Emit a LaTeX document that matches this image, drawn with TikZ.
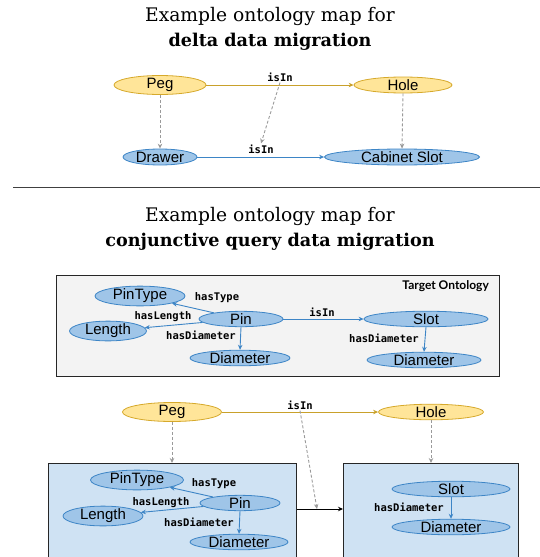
\documentclass[tikz,border=0pt]{standalone}
\usepackage{fontspec}
\setmainfont{DejaVu Serif}
\newfontfamily\nodefont{Liberation Sans}
\newfontfamily\labfont{DejaVu Sans Mono}
\newfontfamily\tgtfont{Lato}
\usetikzlibrary{shapes.geometric,arrows.meta,calc}
\definecolor{yfill}{HTML}{FFE599}
\definecolor{yborder}{HTML}{D6A92B}
\definecolor{yarrow}{HTML}{C9A12B}
\definecolor{bfill}{HTML}{9FC5E8}
\definecolor{bborder}{HTML}{3D85C6}
\definecolor{dgray}{HTML}{9A9A9A}
\definecolor{lgray}{HTML}{F3F3F3}
\definecolor{lblue}{HTML}{CFE2F3}
\tikzset{
  ell/.style={ellipse, draw, inner sep=0pt, minimum height=16pt, line width=0.8pt,
    font=\nodefont\fontsize{15}{15}\selectfont},
  yel/.style={ell, fill=yfill, draw=yborder},
  blu/.style={ell, fill=bfill, draw=bborder},
  lab/.style={font=\labfont\bfseries\fontsize{10.5}{10.5}\selectfont, inner sep=1pt},
  arr/.style={-{Stealth[length=5pt,width=4.5pt]}, line width=0.9pt},
  yarr/.style={arr, draw=yarrow},
  barr/.style={arr, draw=bborder},
  dsh/.style={arr, draw=dgray, dash pattern=on 3pt off 2pt},
  ttl/.style={font=\fontsize{18.7}{20}\selectfont, inner sep=0pt},
  ttlb/.style={font=\fontsize{17.6}{20}\selectfont\bfseries, inner sep=0pt},
  frame/.style={draw=black!85, line width=1.3pt, anchor=north west, inner sep=0pt}
}
\begin{document}
\begin{tikzpicture}[x=1pt,y=-1pt]
\useasboundingbox (0,0) rectangle (540,557);
\clip (0,0) rectangle (540,557);

% ---------- top section ----------
\node[ttl] (t1a) at (270,16) {Example ontology map for};
\node[ttlb] (t1b) at (270,42) {delta data migration};

\node[yel, minimum width=92pt] (peg) at (160,85) {Peg};
\node[yel, minimum width=98pt] (hole) at (403,85) {Hole};
\node[blu, minimum width=74pt] (drawer) at (160,157) {Drawer};
\node[blu, minimum width=155pt] (cab) at (402,157) {Cabinet Slot};

\node[lab] (l1) at (280,77) {isIn};
\node[lab] (l2) at (261,149) {isIn};

\draw[yarr] (peg.east) -- (hole.west);
\draw[barr] (drawer.east) -- (cab.west);
\draw[dsh] (peg.south) -- (drawer.north);
\draw[dsh] (hole.south) -- (cab.north);
\draw[dsh] (l1.south) -- (l2.north);

% separator
\coordinate (sepL) at (13,187);
\coordinate (sepR) at (540,187);
\draw[line width=1pt, black!75] (sepL) -- (sepR);

% ---------- bottom section ----------
\node[ttl] (t2a) at (270,216) {Example ontology map for};
\node[ttlb] (t2b) at (270,242) {conjunctive query data migration};

% target ontology box
\node[frame, fill=lgray, minimum width=443pt, minimum height=101pt] (tbox) at (56,275) {};
\node[font=\tgtfont\bfseries\fontsize{12}{12}\selectfont, anchor=north east, inner sep=0pt] (tlab) at (489,280) {Target Ontology};

\node[blu, minimum width=90pt, minimum height=15pt] (pintype) at (140,296) {PinType};
\node[blu, minimum width=84pt, minimum height=15pt] (pin) at (241,319) {Pin};
\node[blu, minimum width=77pt, minimum height=15pt] (length) at (108,331) {Length};
\node[blu, minimum width=100pt, minimum height=15pt] (diam1) at (240,358) {Diameter};
\node[blu, minimum width=124pt, minimum height=15pt] (slot) at (426,319) {Slot};
\node[blu, minimum width=114pt, minimum height=15pt] (diam2) at (424,360) {Diameter};

\node[lab] (lt1) at (217,298) {hasType};
\node[lab] (lt2) at (163,317) {hasLength};
\node[lab] (lt3) at (201,335) {hasDiameter};
\node[lab] (lt4) at (322,312) {isIn};
\node[lab] (lt5) at (384,338) {hasDiameter};

\draw[barr] (pin) -- (pintype);
\draw[barr] (pin) -- (length);
\draw[barr] (pin.south) -- (diam1.north);
\draw[barr] (pin.east) -- (slot.west);
\draw[barr] (slot.south) -- (diam2.north);

% source part
\node[yel, minimum width=99pt, minimum height=15pt] (peg2) at (172,412) {Peg};
\node[yel, minimum width=105pt, minimum height=15pt] (hole2) at (431,412) {Hole};
\node[lab] (l3) at (300,405) {isIn};
\draw[yarr] (peg2.east) -- (hole2.west);

\node[frame, fill=lblue, minimum width=248pt, minimum height=110pt] (lbox) at (48,463) {};
\node[frame, fill=lblue, minimum width=175pt, minimum height=110pt] (rbox) at (343,463) {};

\coordinate (la) at ($(lbox.north east)+(0,46)$);
\coordinate (ra) at ($(rbox.north west)+(0,46)$);
\coordinate (mid) at (317,509);
\draw[arr, draw=black] (la) -- (ra);
\draw[dsh] (peg2.south) -- (peg2.south |- lbox.north);
\draw[dsh] (hole2.south) -- (hole2.south |- rbox.north);
\draw[dsh] (l3.south) -- (mid);

\node[blu, minimum width=93pt, minimum height=15pt] (pintype2) at (137,480) {PinType};
\node[blu, minimum width=80pt, minimum height=15pt] (pin2) at (240,503) {Pin};
\node[blu, minimum width=80pt, minimum height=15pt] (length2) at (103,516) {Length};
\node[blu, minimum width=98pt, minimum height=15pt] (diam3) at (239,542) {Diameter};
\node[lab] (lb1) at (214,484) {hasType};
\node[lab] (lb2) at (161,503) {hasLength};
\node[lab] (lb3) at (199,522) {hasDiameter};
\draw[barr] (pin2) -- (pintype2);
\draw[barr] (pin2) -- (length2);
\draw[barr] (pin2.south) -- (diam3.north);

\node[blu, minimum width=118pt, minimum height=15pt] (slot2) at (451,489) {Slot};
\node[blu, minimum width=118pt, minimum height=15pt] (diam4) at (451,527) {Diameter};
\node[lab] (lb4) at (409,507) {hasDiameter};
\draw[barr] (slot2.south) -- (diam4.north);
\end{tikzpicture}
\end{document}
